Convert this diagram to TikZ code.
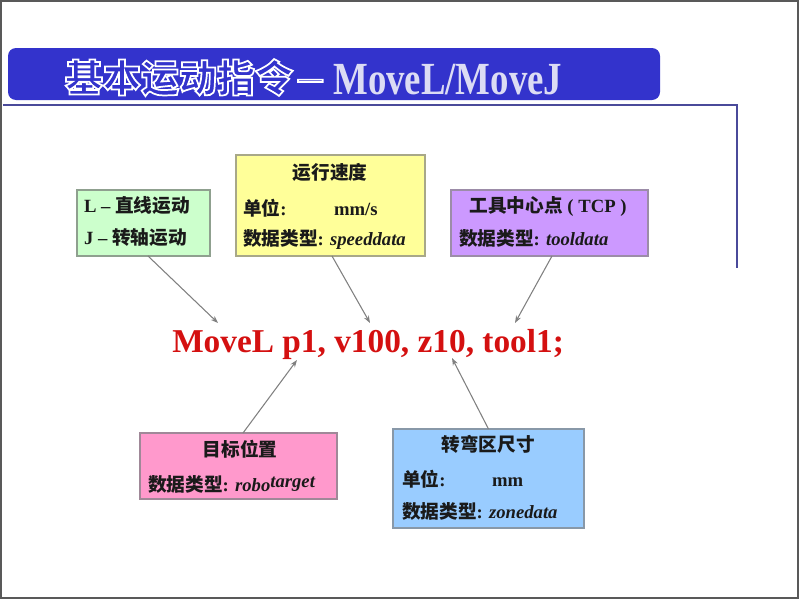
\documentclass[tikz,border=0pt]{standalone}
\usepackage{fontspec}
\setmainfont{Liberation Serif}
\newfontfamily\cjk{Noto Sans CJK SC}
\usetikzlibrary{arrows.meta,calc}
\definecolor{titleblue}{HTML}{3333CC}
\definecolor{rulecol}{HTML}{4A4A9A}
\definecolor{titlelat}{HTML}{DCDCF4}
\definecolor{cmdred}{HTML}{D41010}
\definecolor{arrcol}{HTML}{808080}
\definecolor{gfill}{HTML}{CCFFCC}
\definecolor{gdraw}{HTML}{8FA08F}
\definecolor{yfill}{HTML}{FFFF99}
\definecolor{ydraw}{HTML}{A8A888}
\definecolor{pfill}{HTML}{CC99FF}
\definecolor{pdraw}{HTML}{9C8CA8}
\definecolor{kfill}{HTML}{FF99CC}
\definecolor{kdraw}{HTML}{A08898}
\definecolor{bfill}{HTML}{99CCFF}
\definecolor{bdraw}{HTML}{8898A8}
\definecolor{txt}{HTML}{1A1A1A}
\newcommand{\zhb}[1]{{\cjk\bfseries #1}}
\newcommand{\outl}[1]{\special{pdf:code q 2 Tr 1.3 w 1 1 1 RG}#1\special{pdf:code Q}}
\tikzset{
  box/.style={draw, line width=1.1pt, inner sep=0pt, outer sep=0pt},
  lbl/.style={anchor=base west, inner sep=0pt, outer sep=0pt, text=txt, font=\fontsize{14}{16}\selectfont\bfseries},
  clbl/.style={anchor=base, inner sep=0pt, outer sep=0pt, text=txt, font=\fontsize{14}{16}\selectfont\bfseries},
  arr/.style={draw=arrcol, line width=0.8pt, -{Stealth[length=5.5pt,width=4pt]}},
  ttlzh/.style={anchor=base west, inner sep=0pt, outer sep=0pt, text=titleblue, font=\fontsize{28.5}{30}\cjk\bfseries},
}
\begin{document}
\begin{tikzpicture}[x=0.75pt,y=-0.75pt]
\useasboundingbox (0,0) rectangle (800,600);
% page frame
\draw[draw=black!65, line width=1.5pt] (1,1) rectangle (798,598);
% title bar
\fill[titleblue, rounded corners=6pt] (8,48) rectangle (660,100);
\draw[rulecol, line width=1.5pt] (3,105) -- (737,105) -- (737,268);
% outlined Chinese title
\node[ttlzh] (zh) at (65,92) {\outl{基本运动指令\hspace{4pt}{\fontsize{36}{38}\rmfamily\mdseries –}}};
\node[anchor=base west, inner sep=0pt, text=titlelat, font=\fontsize{34.5}{36}\selectfont\bfseries] (ttl) at (333,94) {\scalebox{0.8}[1]{MoveL/MoveJ}};

% boxes
\node[box, draw=gdraw, fill=gfill, minimum width=99.75pt, minimum height=49.5pt] (green) at (143.5,223) {};
\node[box, draw=ydraw, fill=yfill, minimum width=141.75pt, minimum height=75.75pt] (yellow) at (330.5,205.5) {};
\node[box, draw=pdraw, fill=pfill, minimum width=147.75pt, minimum height=49.5pt] (purple) at (549.5,223) {};
\node[box, draw=kdraw, fill=kfill, minimum width=147.75pt, minimum height=49.5pt] (pink) at (238.5,466) {};
\node[box, draw=bdraw, fill=bfill, minimum width=143.25pt, minimum height=74.25pt] (blue) at (488.5,478.5) {};

% green box text
\node[lbl] (g1) at (84,212) {L – \zhb{直线运动}};
\node[lbl] (g2) at (84,244) {J – \zhb{转轴运动}};
% yellow box text
\node[clbl] (y0) at (330,179) {\zhb{运行速度}};
\node[lbl] (y1) at (243,215) {\zhb{单位}:};
\node[lbl] (y1b) at (334,215) {mm/s};
\node[lbl] (y2) at (243,245) {\zhb{数据类型}: \textit{speeddata}};
% purple box text
\node[clbl] (p0) at (548,212) {\zhb{工具中心点} ( TCP )};
\node[lbl] (p1) at (459,245) {\zhb{数据类型}: \textit{tooldata}};
% pink box text
\node[clbl] (k0) at (240,456) {\zhb{目标位置}};
\node[lbl] (k1) at (148,491) {\zhb{数据类型}: \textit{robo\raisebox{3pt}{target}}};
% blue box text
\node[clbl] (b0) at (488,451) {\zhb{转弯区尺寸}};
\node[lbl] (b1) at (402,486) {\zhb{单位}:};
\node[lbl] (b1b) at (492,486) {mm};
\node[lbl] (b2) at (402,518) {\zhb{数据类型}: \textit{zonedata}};

% main command
\node[anchor=base west, inner sep=0pt, text=cmdred, font=\fontsize{25}{28}\selectfont\bfseries] (cmd) at (172,352) {MoveL p1, v100, z10, tool1;};

% arrow tips
\coordinate (tA) at (218,323);
\coordinate (tB) at (370,323);
\coordinate (tC) at (515,323);
\coordinate (tD) at (297,360);
\coordinate (tE) at (452,358);

\draw[arr] (green.south) ++(4.5,0) -- (tA);
\draw[arr] (yellow.south) ++(1.5,0) -- (tB);
\draw[arr] (purple.south) ++(2.5,0) -- (tC);
\draw[arr] (pink.north) ++(4.5,0) -- (tD);
\draw[arr] (blue.north) -- (tE);
\end{tikzpicture}
\end{document}
